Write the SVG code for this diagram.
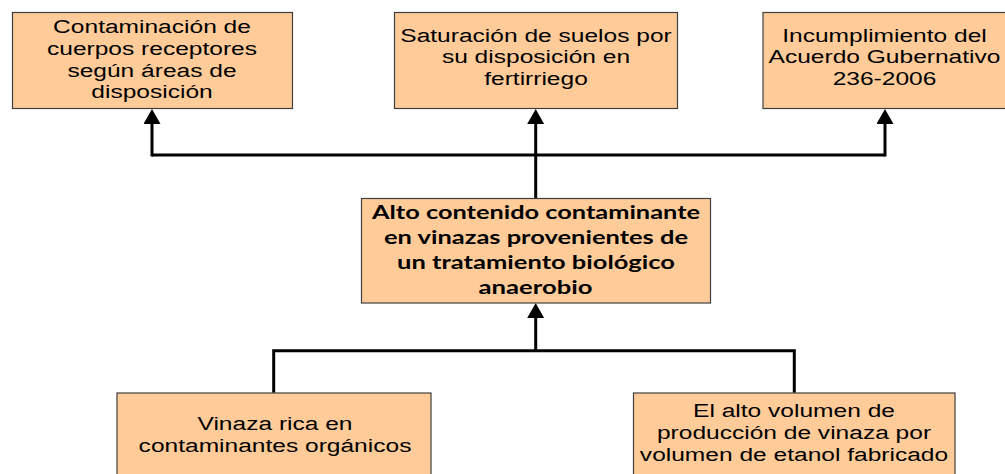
<svg xmlns="http://www.w3.org/2000/svg" width="1005" height="474" viewBox="0 0 1005 474">
<style>
.box{fill:#FFCC99;stroke:#3f3f3f;stroke-width:1.2}
.t{font-family:"Liberation Sans",Arial,sans-serif;font-size:18.6px;fill:#000;text-anchor:middle}
.b{font-family:Lato,"Liberation Sans",sans-serif;font-weight:bold;font-size:18.5px;fill:#000;text-anchor:middle}
.c{fill:none;stroke:#000;stroke-width:3}
</style>
<defs>
<marker id="ah" viewBox="0 0 15 17" refX="5" refY="8.5" markerWidth="15" markerHeight="17" markerUnits="userSpaceOnUse" orient="auto">
<path d="M0,0 L15,8.5 L0,17 Z" fill="#000"/>
</marker>
</defs>
<g id="connectors">
<path class="c" d="M152,155 H885"/>
<path class="c" d="M152,156.5 V119" marker-end="url(#ah)"/>
<path class="c" d="M885,156.5 V119" marker-end="url(#ah)"/>
<path class="c" d="M535.7,198 V119" marker-end="url(#ah)"/>
<path class="c" d="M273.7,392.7 V350.7 H794.3 V392.7"/>
<path class="c" d="M535.7,352 V313" marker-end="url(#ah)"/>
</g>
<g id="n1">
<rect class="box" x="12.5" y="12.5" width="280" height="96"/>
<g transform="translate(152,0) scale(1.32,1)">
<text class="t" x="0" y="33.3">Contaminación de</text>
<text class="t" x="0" y="55">cuerpos receptores</text>
<text class="t" x="0" y="76.7">según áreas de</text>
<text class="t" x="0" y="98.3">disposición</text>
</g>
</g>
<g id="n2">
<rect class="box" x="394.5" y="12.5" width="283" height="96"/>
<g transform="translate(536,0) scale(1.32,1)">
<text class="t" x="0" y="41.7">Saturación de suelos por</text>
<text class="t" x="0" y="63.3">su disposición en</text>
<text class="t" x="0" y="85">fertirriego</text>
</g>
</g>
<g id="n3">
<rect class="box" x="763" y="12.5" width="250" height="96"/>
<g transform="translate(884.5,0) scale(1.32,1)">
<text class="t" x="0" y="41.7">Incumplimiento del</text>
<text class="t" x="0" y="63.3">Acuerdo Gubernativo</text>
<text class="t" x="0" y="85">236-2006</text>
</g>
</g>
<g id="n4">
<rect class="box" x="361.5" y="198.5" width="349" height="104.5"/>
<text class="b" x="536" y="219.3" textLength="328" lengthAdjust="spacingAndGlyphs">Alto contenido contaminante</text>
<text class="b" x="536" y="244.3" textLength="304" lengthAdjust="spacingAndGlyphs">en vinazas provenientes de</text>
<text class="b" x="536" y="269.3" textLength="278" lengthAdjust="spacingAndGlyphs">un tratamiento biológico</text>
<text class="b" x="535.5" y="294.3" textLength="114" lengthAdjust="spacingAndGlyphs">anaerobio</text>
</g>
<g id="n5">
<rect class="box" x="117" y="393" width="314" height="100"/>
<g transform="translate(275,0) scale(1.32,1)">
<text class="t" x="0" y="430">Vinaza rica en</text>
<text class="t" x="0" y="451.7">contaminantes orgánicos</text>
</g>
</g>
<g id="n6">
<rect class="box" x="633.5" y="393" width="321.5" height="100"/>
<g transform="translate(794,0) scale(1.32,1)">
<text class="t" x="0" y="417.3">El alto volumen de</text>
<text class="t" x="0" y="439">producción de vinaza por</text>
<text class="t" x="0" y="460.7">volumen de etanol fabricado</text>
</g>
</g>
</svg>
